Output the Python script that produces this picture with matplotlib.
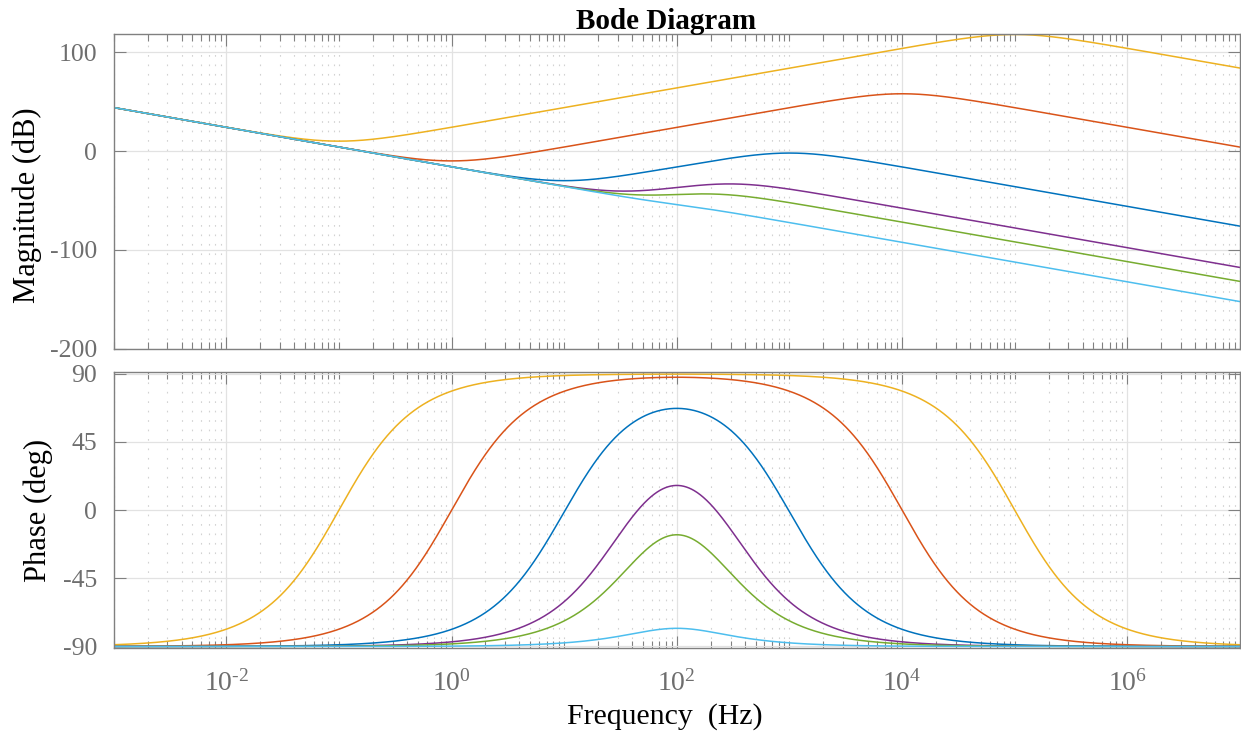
import numpy as np
import matplotlib
matplotlib.use("Agg")
import matplotlib.pyplot as plt
from matplotlib.ticker import FixedLocator, LogLocator, NullFormatter

# Each curve: (1 + s/wz)^2 / (s (1 + s/wp)^2), corner frequencies (Hz)
ZERO_HZ = [10.0, 1.0, 0.1, 33.3, 50.0, 90.0]
POLE_HZ = [1000.0, 1.0e4, 1.0e5, 300.0, 200.0, 111.0]
COLORS = ["#0072BD", "#D95319", "#EDB120", "#7E2F8E", "#77AC30", "#4DBEEE"]

MAG_TICKS = [-200, -100, 0, 100]
PHASE_TICKS = [-90, -45, 0, 45, 90]
X_TICKS = [1e-2, 1e0, 1e2, 1e4, 1e6]
X_TICK_LABELS = [r"$10^{\text{-2}}$", r"$10^{\text{0}}$", r"$10^{\text{2}}$",
                 r"$10^{\text{4}}$", r"$10^{\text{6}}$"]

plt.rcParams["font.family"] = ["Liberation Serif", "DejaVu Serif"]
plt.rcParams["mathtext.fontset"] = "custom"
plt.rcParams["mathtext.rm"] = "Liberation Serif"
plt.rcParams["mathtext.it"] = "Liberation Serif:italic"
plt.rcParams["axes.unicode_minus"] = False

TICK_GRAY = "#6e6e6e"
SPINE_GRAY = "#808080"

freq = np.logspace(-3, 7, 3000)


def response(z, p):
    g = (1 + 1j * freq / z) ** 2 / (1j * 2 * np.pi * freq * (1 + 1j * freq / p) ** 2)
    mag = 20 * np.log10(np.abs(g))
    phase = np.degrees(np.unwrap(np.angle(g)))
    return mag, phase


W, H = 1241, 739
fig = plt.figure(figsize=(W / 100, H / 100), dpi=100)
ax_mag = fig.add_axes([113.7 / W, 1 - 348.7 / H, (1240 - 113.7) / W, (348.7 - 34.3) / H])
ax_ph = fig.add_axes([113.7 / W, 1 - 648.3 / H, (1240 - 113.7) / W, (648.3 - 371.5) / H])

for z, p, c in zip(ZERO_HZ, POLE_HZ, COLORS):
    mag, ph = response(z, p)
    ax_mag.plot(freq, mag, color=c, lw=1.1)
    ax_ph.plot(freq, ph, color=c, lw=1.1)

for ax in (ax_mag, ax_ph):
    ax.set_xscale("log")
    ax.set_xlim(1e-3, 1e7)
    ax.xaxis.set_major_locator(FixedLocator(X_TICKS))
    ax.xaxis.set_minor_locator(LogLocator(base=10, subs=np.arange(1, 10), numticks=100))
    ax.xaxis.set_minor_formatter(NullFormatter())
    ax.grid(True, which="major", color="#e2e2e2", lw=0.9, ls="-")
    ax.grid(True, which="minor", axis="x", color="#d2d2d2", lw=0.8, ls=(0, (1.5, 7)))
    ax.set_axisbelow(True)
    ax.tick_params(which="both", direction="in", top=True, right=True,
                   colors=SPINE_GRAY, labelcolor=TICK_GRAY, labelsize=18.5)
    ax.tick_params(which="major", length=8.5, width=0.8)
    ax.tick_params(which="minor", length=5, width=0.8)
    ax.tick_params(axis="y", pad=12)
    for s in ax.spines.values():
        s.set_color(SPINE_GRAY)
        s.set_linewidth(1.0)

ax_mag.set_ylim(-200, 118.2)
ax_mag.set_yticks(MAG_TICKS)
ax_mag.tick_params(axis="x", labelbottom=False)

ax_ph.set_ylim(-91.2, 91.5)
ax_ph.set_yticks(PHASE_TICKS)
ax_ph.set_xticklabels(X_TICK_LABELS)
ax_ph.tick_params(axis="x", pad=16, labelsize=20)

fig.text(666 / W, 1 - 29.3 / H, "Bode Diagram", ha="center", va="baseline",
         fontsize=21, fontweight="bold")
fig.text(665 / W, 1 - 723.5 / H, "Frequency  (Hz)", ha="center", va="baseline",
         fontsize=21.5)
fig.text(27 / W, 1 - 205 / H, "Magnitude (dB)", ha="center", va="center",
         rotation=90, fontsize=22)
fig.text(38 / W, 1 - 510 / H, "Phase (deg)", ha="center", va="center",
         rotation=90, fontsize=22)

fig.savefig("out.png", dpi=100)
